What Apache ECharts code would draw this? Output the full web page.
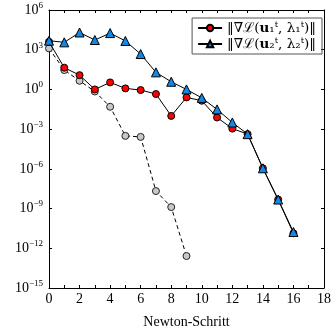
<!DOCTYPE html>
<html><head><meta charset="utf-8">
<script src="https://cdn.jsdelivr.net/npm/echarts@6/dist/echarts.min.js"></script>
<style>html,body{margin:0;padding:0;background:#fff}#c{width:334px;height:336px}</style>
</head><body><div id="c"></div>
<script>
var steps = [0,1,2,3,4,5,6,7,8,9,10,11,12,13,14,15,16];
var red = [4.0e3, 44, 12, 1.0, 3.4, 1.2, 0.9, 0.45, 0.01, 0.25, 0.14, 7.6e-3, 1.1e-3, 4.2e-4, 1.1e-6, 4.8e-9, 1.35e-11];
var blue = [4.8e3, 3.6e3, 2.0e4, 5.4e3, 1.8e4, 4.6e3, 4.7e2, 19.5, 3.8, 1.0, 0.23, 0.031, 3.2e-3, 4.2e-4, 1.1e-6, 4.8e-9, 1.7e-11];
var grayStep = [0,1,2,3,4,5,6,7,8,9];
var gray = [1.26e3, 29, 4.5, 0.7, 0.049, 3.1e-4, 2.6e-4, 2.1e-8, 1.3e-9, 2.6e-13];
var legendNames = ['s1','s2'];
var xTitle = 'Newton-Schritt';

function pairs(xs, ys){ return xs.map(function(x,i){return [x, ys[i]];}); }
var FONT = 'Liberation Serif';
var chart = echarts.init(document.getElementById('c'));
var axisCommon = {
  axisLine:{show:true,onZero:false,lineStyle:{color:'#000',width:1}},
  splitLine:{show:false}
};
chart.setOption({
  animation:false,
  grid:{left:49,right:5,top:10,bottom:48},
  legend:{
    right:12, top:18, orient:'vertical',
    data:legendNames,
    borderColor:'#555', borderWidth:1, padding:[3,6,3,5],
    itemGap:2, itemWidth:24, itemHeight:8,
    formatter:function(n){
      var k = n==='s1' ? '\u2081' : '\u2082';
      return '{n|\u2016\u2207\u2112(}{b|u}{n|'+k+'\u1D57, \u03BB'+k+'\u1D57)\u2016}';
    },
    textStyle:{fontFamily:FONT,fontSize:13,color:'#000',
      rich:{n:{fontFamily:'DejaVu Serif',fontSize:13.5,lineHeight:17,color:'#000'},b:{fontFamily:'DejaVu Serif',fontSize:13.5,lineHeight:17,fontWeight:'bold',color:'#000'}}}
  },
  xAxis:[
    Object.assign({type:'value',min:0,max:18,interval:1,
      name:xTitle,nameLocation:'middle',nameGap:27,
      nameTextStyle:{fontFamily:FONT,fontSize:14,color:'#000'},
      axisTick:{show:true,inside:true,length:3,lineStyle:{color:'#000'}},
      axisLabel:{fontFamily:FONT,fontSize:14,color:'#000',margin:4,
        formatter:function(v){return v%2===0? String(v):'';}}
    }, axisCommon),
    Object.assign({type:'value',min:0,max:18,interval:1,position:'top',
      axisTick:{show:true,inside:true,length:3,lineStyle:{color:'#000'}},
      axisLabel:{show:false}}, axisCommon)
  ],
  yAxis:[
    Object.assign({type:'log',logBase:10,min:1e-15,max:1e6,interval:3,
      axisTick:{show:true,inside:true,length:3,lineStyle:{color:'#000'}},
      minorTick:{show:false},
      axisLabel:{fontFamily:FONT,color:'#000',margin:6,
        formatter:function(v){
          var e = Math.round(Math.log10(v));
          var s = e<0 ? '\u2212'+(-e) : String(e);
          return '{b|10}{s|'+s+'}';
        },
        rich:{b:{fontFamily:FONT,fontSize:14,color:'#000'},
              s:{fontFamily:FONT,fontSize:9,color:'#000',padding:[0,0,9,0]}}}
    }, axisCommon),
    Object.assign({type:'log',logBase:10,min:1e-15,max:1e6,interval:3,position:'right',
      axisTick:{show:true,inside:true,length:3,lineStyle:{color:'#000'}},
      axisLabel:{show:false}}, axisCommon)
  ],
  series:[
    {type:'line',name:'gray',data:pairs(grayStep,gray),z:1,
      symbol:'circle',symbolSize:7,
      lineStyle:{color:'#000',width:1,type:[4,3]},
      itemStyle:{color:'#c8c8c8',borderColor:'#222',borderWidth:1}},
    {type:'line',name:'s1',data:pairs(steps,red),z:2,
      symbol:'circle',symbolSize:7,
      lineStyle:{color:'#000',width:1},
      itemStyle:{color:'#ff0000',borderColor:'#000',borderWidth:1}},
    {type:'line',name:'s2',data:pairs(steps,blue),z:3,
      symbol:'triangle',symbolSize:9,
      lineStyle:{color:'#000',width:1},
      itemStyle:{color:'#1188e8',borderColor:'#000',borderWidth:1}}
  ]
});
</script></body></html>
